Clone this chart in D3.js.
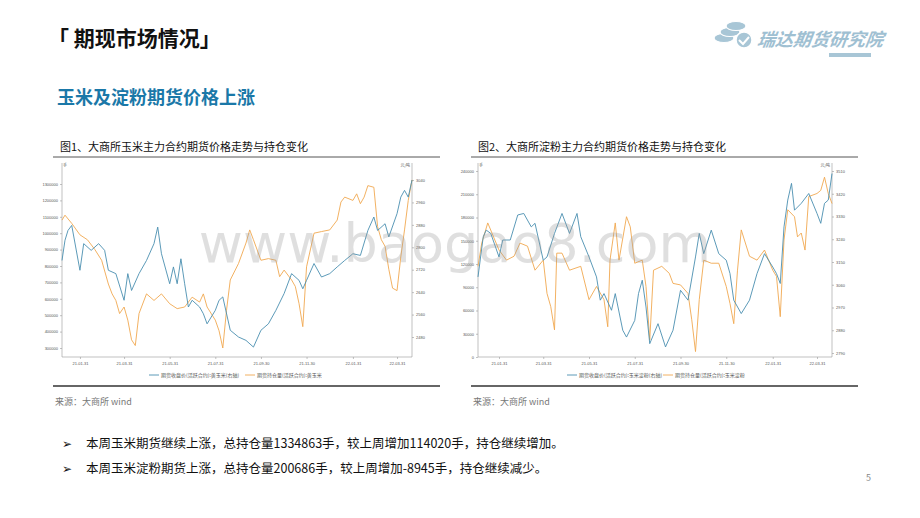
<!DOCTYPE html>
<html><head><meta charset="utf-8">
<script src="https://cdn.jsdelivr.net/npm/d3@7"></script>
<style>body{margin:0;background:#fff;font-family:"Noto Sans CJK SC","Noto Sans",sans-serif}</style>
</head><body><svg id="s" width="920" height="518"></svg>
<script>
// Chart 1: corn
const c1OiDates=["2021-01-07","2021-01-11","2021-01-20","2021-01-31","2021-02-10","2021-02-20","2021-03-01","2021-03-10","2021-03-15","2021-03-20","2021-03-25","2021-03-31","2021-04-05","2021-04-10","2021-04-15","2021-04-20","2021-04-30","2021-05-10","2021-05-20","2021-05-31","2021-06-10","2021-06-20","2021-06-30","2021-07-10","2021-07-15","2021-07-20","2021-07-31","2021-08-05","2021-08-10","2021-08-15","2021-08-20","2021-08-31","2021-09-10","2021-09-15","2021-09-20","2021-09-30","2021-10-10","2021-10-20","2021-10-25","2021-10-31","2021-11-10","2021-11-15","2021-11-20","2021-11-25","2021-11-30","2021-12-10","2021-12-20","2021-12-31","2022-01-10","2022-01-15","2022-01-20","2022-01-31","2022-02-05","2022-02-10","2022-02-15","2022-02-20","2022-02-28","2022-03-05","2022-03-10","2022-03-15","2022-03-20","2022-03-25","2022-03-31","2022-04-05","2022-04-10","2022-04-15","2022-04-20"];
const c1Oi=[1080000,1110000,1060000,990000,960000,900000,835000,690000,630000,590000,510000,550000,470000,350000,315000,510000,630000,590000,630000,570000,540000,550000,610000,580000,630000,550000,470000,405000,300000,530000,715000,815000,940000,1020000,960000,835000,845000,835000,735000,775000,715000,675000,570000,430000,795000,1000000,1010000,1020000,1080000,1190000,1220000,1200000,1240000,1180000,1220000,1290000,1280000,1040000,960000,920000,780000,665000,650000,855000,1020000,1200000,1325000];
const c1PxDates=["2021-01-07","2021-01-11","2021-01-15","2021-01-20","2021-01-31","2021-02-05","2021-02-15","2021-02-25","2021-03-05","2021-03-10","2021-03-20","2021-03-31","2021-04-05","2021-04-10","2021-04-20","2021-04-30","2021-05-10","2021-05-15","2021-05-20","2021-05-31","2021-06-05","2021-06-10","2021-06-15","2021-06-20","2021-06-25","2021-06-30","2021-07-10","2021-07-15","2021-07-20","2021-07-31","2021-08-05","2021-08-10","2021-08-20","2021-08-31","2021-09-10","2021-09-20","2021-09-30","2021-10-10","2021-10-20","2021-10-31","2021-11-10","2021-11-20","2021-11-25","2021-11-30","2021-12-10","2021-12-20","2021-12-31","2022-01-10","2022-01-20","2022-01-31","2022-02-10","2022-02-20","2022-02-28","2022-03-05","2022-03-15","2022-03-20","2022-03-31","2022-04-05","2022-04-10","2022-04-15","2022-04-20"];
const c1Px=[2753,2825,2860,2878,2718,2813,2789,2813,2789,2718,2706,2611,2706,2646,2706,2753,2813,2872,2777,2670,2730,2670,2759,2670,2587,2611,2587,2563,2527,2575,2611,2623,2504,2480,2468,2444,2504,2527,2575,2635,2706,2682,2652,2682,2742,2694,2706,2730,2753,2777,2771,2860,2908,2860,2884,2837,2920,2979,3003,2979,3040];
const c1LeftTicks=[300000,400000,500000,600000,700000,800000,900000,1000000,1100000,1200000,1300000];
const c1RightTicks=[2480,2560,2640,2720,2800,2880,2960,3040];
// Chart 2: starch
const c2OiDates=["2021-01-03","2021-01-08","2021-01-12","2021-01-16","2021-01-31","2021-02-10","2021-02-20","2021-02-28","2021-03-10","2021-03-20","2021-03-31","2021-04-05","2021-04-10","2021-04-15","2021-04-18","2021-04-25","2021-05-05","2021-05-20","2021-05-31","2021-06-10","2021-06-20","2021-06-25","2021-06-28","2021-07-05","2021-07-10","2021-07-20","2021-07-25","2021-07-31","2021-08-10","2021-08-15","2021-08-20","2021-08-25","2021-09-05","2021-09-15","2021-09-20","2021-09-30","2021-10-10","2021-10-15","2021-10-20","2021-10-25","2021-10-31","2021-11-10","2021-11-20","2021-11-30","2021-12-05","2021-12-10","2021-12-15","2021-12-20","2021-12-31","2022-01-10","2022-01-20","2022-01-31","2022-02-05","2022-02-10","2022-02-15","2022-02-20","2022-03-01","2022-03-05","2022-03-10","2022-03-15","2022-03-20","2022-03-31","2022-04-05","2022-04-10","2022-04-15","2022-04-20"];
const c2Oi=[117000,147000,160000,173000,138000,125000,130000,147000,143000,112000,125000,82000,65000,35000,134000,134000,112000,117000,74000,91000,74000,39000,125000,173000,125000,181000,168000,121000,125000,91000,22000,112000,117000,108000,95000,93000,82000,48000,7000,74000,125000,121000,121000,91000,69000,43000,112000,164000,130000,125000,138000,112000,104000,52000,151000,190000,181000,155000,160000,138000,207000,211000,215000,232000,211000,198000];
const c2PxDates=["2021-01-03","2021-01-10","2021-01-14","2021-01-20","2021-01-31","2021-02-05","2021-02-15","2021-02-25","2021-03-05","2021-03-15","2021-03-20","2021-03-31","2021-04-05","2021-04-15","2021-04-25","2021-05-05","2021-05-15","2021-05-20","2021-05-31","2021-06-10","2021-06-15","2021-06-20","2021-06-30","2021-07-05","2021-07-15","2021-07-20","2021-07-31","2021-08-05","2021-08-10","2021-08-15","2021-08-20","2021-08-31","2021-09-10","2021-09-20","2021-09-30","2021-10-10","2021-10-20","2021-10-25","2021-10-31","2021-11-10","2021-11-20","2021-11-30","2021-12-05","2021-12-10","2021-12-20","2021-12-31","2022-01-10","2022-01-20","2022-01-31","2022-02-05","2022-02-10","2022-02-15","2022-02-20","2022-02-25","2022-03-01","2022-03-10","2022-03-20","2022-03-31","2022-04-05","2022-04-10","2022-04-15","2022-04-20"];
const c2Px=[3091,3250,3276,3263,3170,3237,3237,3336,3342,3289,3303,3157,3170,3263,3342,3263,3342,3250,3170,3091,2999,3025,2959,3025,2880,2853,2919,3025,3078,2972,2827,2906,2814,2880,3038,2999,3170,3263,3183,3276,3183,3157,3104,2999,2946,2999,3104,3183,3130,3104,3065,3289,3395,3461,3355,3382,3421,3342,3303,3382,3395,3500];
const c2LeftTicks=[0,30000,60000,90000,120000,150000,180000,210000,240000];
const c2RightTicks=[2790,2880,2970,3060,3150,3240,3330,3420,3510];
const xTickDates=["2021-01-31","2021-03-31","2021-05-31","2021-07-31","2021-09-30","2021-11-30","2022-01-31","2022-03-31"];
const legend1=["期货收盘价(活跃合约):黄玉米(右轴)","期货持仓量(活跃合约):黄玉米"];
const legend2=["期货收盘价(活跃合约):玉米淀粉(右轴)","期货持仓量(活跃合约):玉米淀粉"];
const bullets=["本周玉米期货继续上涨，总持仓量1334863手，较上周增加114020手，持仓继续增加。","本周玉米淀粉期货上涨，总持仓量200686手，较上周增加-8945手，持仓继续减少。"];

const svg=d3.select("#s");
const P=d3.timeParse("%Y-%m-%d"), F=d3.timeFormat("%y-%m-%d");
svg.append("text").attr("x",48).attr("y",46).attr("font-size",21).attr("font-weight","bold").attr("fill","#111").text("「 期现市场情况」");
const lg=svg.append("g");
[[716,38],[722,32],[728,26]].forEach(([x,y])=>lg.append("ellipse").attr("cx",x+8).attr("cy",y).attr("rx",10).attr("ry",4.5).attr("fill","#a8c6d6").attr("stroke","#fff").attr("stroke-width",1.2));
lg.append("circle").attr("cx",744).attr("cy",40).attr("r",8).attr("fill","#a8c6d6").attr("stroke","#fff").attr("stroke-width",1.5);
lg.append("path").attr("d","M739,40 l4,4 l6,-7").attr("fill","none").attr("stroke","#fff").attr("stroke-width",2);
lg.append("text").attr("x",757).attr("y",46).attr("font-size",18).attr("font-style","italic").attr("font-weight","bold").attr("fill","#9fc0d2").attr("transform","skewX(-8) translate(6,0)").text("瑞达期货研究院");
lg.append("rect").attr("x",829).attr("y",53).attr("width",42).attr("height",4).attr("fill","#a8c6d6");
svg.append("text").attr("x",57).attr("y",104).attr("font-size",18).attr("font-weight","bold").attr("fill","#1a78a8").text("玉米及淀粉期货价格上涨");

function chart(ox,title,L,R,leftT,rightT,lRange,rRange,oiD,oi,pxD,px,leg,src){
  svg.append("text").attr("x",ox+2).attr("y",151).attr("font-size",11).attr("fill","#111").text(title);
  svg.append("line").attr("x1",ox-5).attr("x2",ox+382).attr("y1",157).attr("y2",157).attr("stroke","#555").attr("stroke-width",1);
  svg.append("line").attr("x1",ox-5).attr("x2",ox+382).attr("y1",386).attr("y2",386).attr("stroke","#666").attr("stroke-width",2);
  svg.append("text").attr("x",ox-3).attr("y",405).attr("font-size",9).attr("fill","#777").text(src);
  const x=d3.scaleTime().domain([P(oiD[0]),P("2022-04-20")]).range([L,R]);
  const yl=d3.scaleLinear().domain([leftT[0],leftT[leftT.length-1]]).range(lRange);
  const yr=d3.scaleLinear().domain([rightT[0],rightT[rightT.length-1]]).range(rRange);
  const ax=svg.append("g").attr("transform","translate(0,357)").call(d3.axisBottom(x).tickValues(xTickDates.map(P)).tickFormat(F).tickSize(2));
  const al=svg.append("g").attr("transform",`translate(${L},0)`).call(d3.axisLeft(yl).tickValues(leftT).tickFormat(d3.format("d")).tickSize(2).tickPadding(2));
  const ar=svg.append("g").attr("transform",`translate(${R},0)`).call(d3.axisRight(yr).tickValues(rightT).tickFormat(d3.format("d")).tickSize(2).tickPadding(2));
  [ax,al,ar].forEach(g=>{g.selectAll("text").attr("font-size",4).attr("fill","#555");g.selectAll(".domain,line").attr("stroke","#999").attr("stroke-width",0.6);});
  ax.select(".domain").attr("d",`M${L},0H${R}`);
  al.select(".domain").attr("d",`M0,163V357`);ar.select(".domain").attr("d",`M0,163V357`);
  svg.append("text").attr("x",L+1).attr("y",167).attr("font-size",4).attr("fill","#555").text("手");
  svg.append("text").attr("x",R-2).attr("y",167).attr("font-size",4).attr("fill","#555").attr("text-anchor","end").text("元/吨");
  svg.append("path").datum(oiD.map((d,i)=>[P(d),oi[i]])).attr("fill","none").attr("stroke","#f0a850").attr("stroke-width",0.9)
    .attr("d",d3.line().x(d=>x(d[0])).y(d=>yl(d[1])));
  svg.append("path").datum(pxD.map((d,i)=>[P(d),px[i]])).attr("fill","none").attr("stroke","#4a8fb0").attr("stroke-width",0.9)
    .attr("d",d3.line().x(d=>x(d[0])).y(d=>yr(d[1])));
  const mx=(L+R)/2;
  [[mx-88,"#4a8fb0",leg[0]],[mx+8,"#f0a850",leg[1]]].forEach(([lx,c,t])=>{
    svg.append("line").attr("x1",lx).attr("x2",lx+10).attr("y1",375).attr("y2",375).attr("stroke",c).attr("stroke-width",0.9);
    svg.append("text").attr("x",lx+12).attr("y",377).attr("font-size",5).attr("fill","#555").text(t);});
}
chart(58,"图1、大商所玉米主力合约期货价格走势与持仓变化",62,412,c1LeftTicks,c1RightTicks,[348,184],[337,180],c1OiDates,c1Oi,c1PxDates,c1Px,legend1,"来源：大商所    wind");
chart(476,"图2、大商所淀粉主力合约期货价格走势与持仓变化",478,832,c2LeftTicks,c2RightTicks,[357,171],[353,171],c2OiDates,c2Oi,c2PxDates,c2Px,legend2,"来源：大商所    wind");
svg.append("text").attr("x",455).attr("y",262).attr("text-anchor","middle").attr("font-size",54).attr("font-family","DejaVu Sans").attr("fill","#999").attr("opacity",0.3).text("www.baogao8.com");
bullets.forEach((b,i)=>{
  svg.append("text").attr("x",62).attr("y",448+i*25).attr("font-size",12).attr("fill","#111").text("➢");
  svg.append("text").attr("x",86).attr("y",448+i*25).attr("font-size",12.5).attr("fill","#111").text(b);});
svg.append("text").attr("x",866).attr("y",481).attr("font-size",9).attr("fill","#888").text("5");
</script></body></html>
